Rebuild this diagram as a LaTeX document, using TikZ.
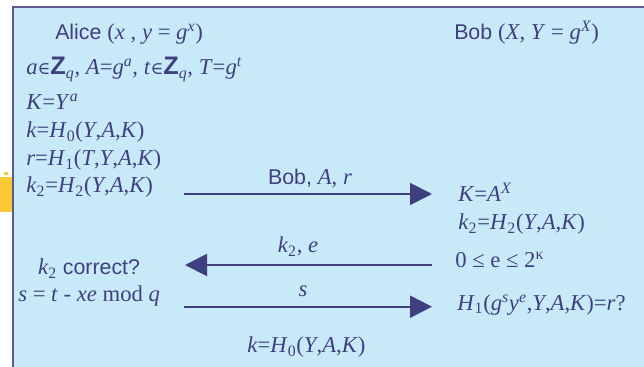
\documentclass[tikz,border=0pt]{standalone}
\usepackage{fontspec}
\setmainfont{Liberation Sans}
\newfontfamily\tms{Liberation Serif}
\newfontfamily\dvs{DejaVu Serif}
\usetikzlibrary{arrows.meta}

\definecolor{ink}{HTML}{3F3F7F}
\definecolor{panel}{HTML}{C8EAF8}
\definecolor{rim}{HTML}{5A5A8C}
\definecolor{gold}{HTML}{F8C935}

\newcommand{\vv}[1]{\textit{#1}}
\newcommand{\lo}[1]{\textsubscript{#1}}
\newcommand{\hi}[1]{\textsuperscript{\itshape #1}}
\newcommand{\elem}{{\dvs\fontsize{13}{13}\selectfont ∈}}
\newcommand{\Zq}{{\fontspec{Liberation Sans}\fontsize{19}{20}\selectfont\bfseries Z}\lo{\itshape q}}
\newcommand{\sr}{\tms\fontsize{17}{20}\selectfont}

\begin{document}
\begin{tikzpicture}[
  x=0.75pt, y=-0.75pt,
  txt/.style={inner sep=0pt, text=ink, font=\fontsize{16}{19}\selectfont},
  eq/.style={inner sep=0pt, text=ink, font=\sr},
  flow/.style={draw=ink, line width=1.5pt, -{Triangle[length=16.5pt,width=16.5pt]}}
]
  \useasboundingbox (0,0) rectangle (644,367);
  \fill[gold] (0,177) rectangle (12,212);
  \fill[gold] (4,172) rectangle (8,175);
  \fill[panel] (12,7) rectangle (644,367);
  \draw[rim, line width=1.5pt] (12.5,367) -- (12.5,7.5) -- (644,7.5);

  \node[txt, anchor=base west] (alice) at (55,39.5)
    {Alice {\sr (\vv{x} , \vv{y} = \vv{g}\hi{x})}};
  \node[txt, anchor=base west] (bob) at (454,39.5)
    {Bob {\sr (\vv{X}, \vv{Y} = \vv{g}\hi{X})}};

  \node[eq, anchor=base west] (pick) at (26,75)
    {\vv{a}\elem\Zq, \vv{A}=\vv{g}\hi{a}, \vv{t}\elem\Zq, \vv{T}=\vv{g}\hi{t}};
  \node[eq, anchor=base west] (kA) at (26,110) {\vv{K}=\vv{Y}\hi{a}};
  \node[eq, anchor=base west] (k0A) at (26,138) {\vv{k}=\vv{H}\lo{0}(\vv{Y},\vv{A},\vv{K})};
  \node[eq, anchor=base west] (r1) at (26,166) {\vv{r}=\vv{H}\lo{1}(\vv{T},\vv{Y},\vv{A},\vv{K})};
  \node[eq, anchor=base west] (k2A) at (26,193) {\vv{k}\lo{2}=\vv{H}\lo{2}(\vv{Y},\vv{A},\vv{K})};

  \node[txt, anchor=base] (chk) at (89,275) {{\sr\vv{k}\lo{2}} correct?};
  \node[eq, anchor=base west] (sA) at (18,301.5)
    {\vv{s} = \vv{t} - \vv{xe} mod \vv{q}};

  \node[eq, anchor=base west] (kB) at (458,201.5) {\vv{K}=\vv{A}\hi{X}};
  \node[eq, anchor=base west] (k2B) at (458,230) {\vv{k}\lo{2}=\vv{H}\lo{2}(\vv{Y},\vv{A},\vv{K})};
  \node[eq, anchor=base west] (range) at (455,268) {0 ≤ e ≤ 2\textsuperscript{κ}};
  \node[eq, anchor=base west] (verify) at (457,310.5)
    {\vv{H}\lo{1}(\vv{g}\hi{s}\vv{y}\hi{e},\vv{Y},\vv{A},\vv{K})=\vv{r}?};

  \node[eq, anchor=base west] (k0B) at (247,353) {\vv{k}=\vv{H}\lo{0}(\vv{Y},\vv{A},\vv{K})};

  \coordinate (m1a) at (184,194);
  \coordinate (m1b) at (432,194);
  \coordinate (m2a) at (432,265);
  \coordinate (m2b) at (185,265);
  \coordinate (m3a) at (184,306.7);
  \coordinate (m3b) at (432,306.7);

  \draw[flow] (m1a) -- (m1b);
  \draw[flow] (m2a) -- (m2b);
  \draw[flow] (m3a) -- (m3b);

  \node[txt, anchor=base] (lab1) at (310,185) {Bob, {\sr\vv{A}, \vv{r}}};
  \node[eq, anchor=base] (lab2) at (298,252.7) {\vv{k}\lo{2}, \vv{e}};
  \node[eq, anchor=base] (lab3) at (303,296.7) {\vv{s}};
\end{tikzpicture}
\end{document}
